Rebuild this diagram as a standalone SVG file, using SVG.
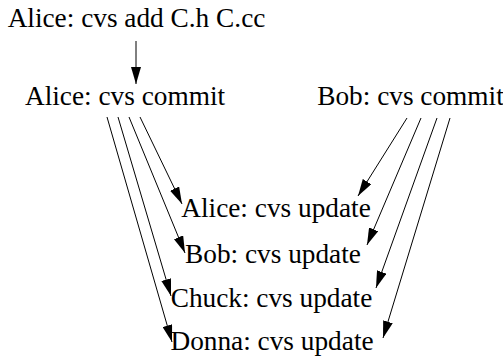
<svg xmlns="http://www.w3.org/2000/svg" width="503" height="358" viewBox="0 0 503 358">
<style>
text{font-family:"Liberation Serif","Times New Roman",serif;font-size:27.3px;fill:#000;text-anchor:middle}
.e line{stroke:#000;stroke-width:1;marker-end:url(#ah)}
</style>
<defs>
<marker id="ah" markerUnits="userSpaceOnUse" markerWidth="17" markerHeight="10" refX="17" refY="5" orient="auto" viewBox="0 0 17 10">
<path d="M0,0 L17,5 L0,10 z" fill="#000"/>
</marker>
</defs>
<rect width="503" height="358" fill="#fff"/>
<g class="e" id="edges">
<line x1="136" y1="41" x2="136" y2="84"/>
<line x1="140" y1="117" x2="182" y2="204"/>
<line x1="129" y1="117" x2="185" y2="253"/>
<line x1="118" y1="117" x2="171" y2="296"/>
<line x1="107" y1="117" x2="172" y2="342"/>
<line x1="407" y1="118" x2="358" y2="196"/>
<line x1="421" y1="118" x2="367" y2="245"/>
<line x1="437" y1="118" x2="376" y2="288"/>
<line x1="450" y1="118" x2="383" y2="338"/>
</g>
<g id="add"><text x="136.5" y="27">Alice: cvs add C.h C.cc</text></g>
<g id="alice_commit"><text x="125" y="105">Alice: cvs commit</text></g>
<g id="bob_commit"><text x="410.5" y="105">Bob: cvs commit</text></g>
<g id="alice_update"><text x="276" y="217">Alice: cvs update</text></g>
<g id="bob_update"><text x="273" y="263">Bob: cvs update</text></g>
<g id="chuck_update"><text x="271.5" y="307">Chuck: cvs update</text></g>
<g id="donna_update"><text x="272" y="350">Donna: cvs update</text></g>
</svg>
